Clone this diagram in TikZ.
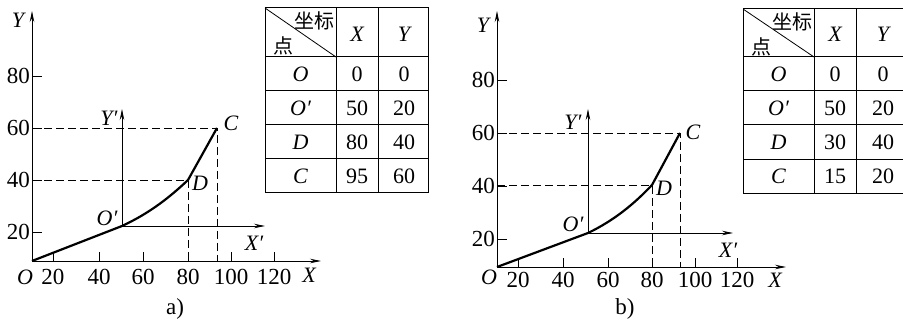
\documentclass[tikz,border=0pt]{standalone}
\usepackage{fontspec}
\setmainfont{Liberation Serif}
\newfontfamily\cjk{Noto Sans CJK SC}
\usetikzlibrary{arrows.meta}
\begin{document}
\begin{tikzpicture}[x=1pt,y=-1pt,
  axis/.style={line width=0.9pt, -{Stealth[length=11pt,width=4.5pt]}},
  curve/.style={line width=2.2pt, line join=round},
  guide/.style={line width=0.8pt, dash pattern=on 8pt off 4pt},
  tickline/.style={line width=0.9pt},
  lbl/.style={font=\fontsize{23}{23}\selectfont, inner sep=0pt},
  ilbl/.style={font=\fontsize{22}{22}\selectfont\itshape, inner sep=0pt},
  tlbl/.style={font=\fontsize{22}{22}\selectfont, inner sep=0pt},
  cjklbl/.style={font=\fontsize{20}{20}\selectfont\cjk, inner sep=0pt},
  gridline/.style={line width=1pt}]
\useasboundingbox (0,0) rectangle (903,320);

% ---------------- panel a ----------------
\coordinate (aO) at (32,261);
\coordinate (aXend) at (321,261);
\coordinate (aYend) at (32,11);
\coordinate (aOp) at (122,226);
\coordinate (aXpend) at (265,226);
\coordinate (aYpend) at (122,109);
\coordinate (aD) at (188,180);
\coordinate (aC) at (217,128);

\draw[guide] (aO |- aC) -- (aC) -- (aC |- aO);
\draw[guide] (aO |- aD) -- (aD) -- (aD |- aO);
\draw[axis] (aO) -- (aXend);
\draw[axis] (aO) -- (aYend);
\draw[axis] (aOp) -- (aXpend);
\draw[axis] (aOp) -- (aYpend);
\foreach \x in {53,99,143,188,231,274} \draw[tickline] (\x,261) -- (\x,252);
\foreach \y in {76,128,180,232} \draw[tickline] (32,\y) -- (42,\y);
\draw[curve] (aO) -- (aOp) .. controls (150,213) and (170,197) .. (aD) -- (aC);

\foreach \x/\t in {53/20,99/40,143/60,188/80,231/100,274/120}
  \node[lbl] (ax\t) at (\x,277) {\t};
\foreach \y/\t in {76/80,128/60,180/40,232/20}
  \node[lbl, anchor=east] (ay\t) at (30,\y) {\t};
\node[ilbl] (aOl) at (25,277) {O};
\node[ilbl] (aYl) at (18,20) {Y};
\node[ilbl] (aXl) at (309,275) {X};
\node[ilbl] (aYpl) at (109,118) {Y′};
\node[ilbl] (aXpl) at (254,243) {X′};
\node[ilbl] (aOpl) at (107,218) {O′};
\node[ilbl] (aDl) at (200,183) {D};
\node[ilbl] (aCl) at (231,123) {C};
\node[lbl] (acap) at (175,309) {a)};

% table a
\draw[gridline] (265,8) rectangle (428,193);
\foreach \x in {336,378} \draw[gridline] (\x,8) -- (\x,193);
\foreach \y in {57,91,125,159} \draw[gridline] (265,\y) -- (428,\y);
\draw[line width=0.8pt] (265,8) -- (336,57);
\node[cjklbl] (ta1) at (314,21) {坐标};
\node[cjklbl] (ta2) at (283,46) {点};
\node[ilbl] (taX) at (357,34) {X};
\node[ilbl] (taY) at (404,34) {Y};
\foreach \i/\p/\vx/\vy in {0/O/0/0,1/O′/50/20,2/D/80/40,3/C/95/60}{
  \node[ilbl] (tap\i) at (300.5,74+34*\i) {\p};
  \node[tlbl] (tax\i) at (357,74+34*\i) {\vx};
  \node[tlbl] (tay\i) at (404,74+34*\i) {\vy};
}

% ---------------- panel b ----------------
\coordinate (bO) at (497,267);
\coordinate (bXend) at (786,267);
\coordinate (bYend) at (497,11);
\coordinate (bOp) at (588,233);
\coordinate (bXpend) at (733,233);
\coordinate (bYpend) at (588,109);
\coordinate (bD) at (652,185);
\coordinate (bC) at (680,133);

\draw[guide] (bO |- bC) -- (bC) -- (bC |- bO);
\draw[guide] (bO |- bD) -- (bD) -- (bD |- bO);
\draw[axis] (bO) -- (bXend);
\draw[axis] (bO) -- (bYend);
\draw[axis] (bOp) -- (bXpend);
\draw[axis] (bOp) -- (bYpend);
\foreach \x in {518,563,608,652,695,737} \draw[tickline] (\x,267) -- (\x,258);
\foreach \y in {80,133,186,239} \draw[tickline] (497,\y) -- (507,\y);
\draw[curve] (bO) -- (bOp) .. controls (615,220) and (635,203) .. (bD) -- (bC);

\foreach \x/\t in {518/20,563/40,608/60,652/80,695/100,737/120}
  \node[lbl] (bx\t) at (\x,280) {\t};
\foreach \y/\t in {80/80,133/60,186/40,239/20}
  \node[lbl, anchor=east] (by\t) at (495,\y) {\t};
\node[ilbl] (bOl) at (489,277) {O};
\node[ilbl] (bYl) at (483,25) {Y};
\node[ilbl] (bXl) at (775,280) {X};
\node[ilbl] (bYpl) at (573,122) {Y′};
\node[ilbl] (bXpl) at (728,250) {X′};
\node[ilbl] (bOpl) at (573,224) {O′};
\node[ilbl] (bDl) at (664,188) {D};
\node[ilbl] (bCl) at (693,132) {C};
\node[lbl] (bcap) at (625,309) {b)};

% table b
\draw[gridline] (906,9) -- (743,9) -- (743,194) -- (906,194);
\foreach \x in {814,856} \draw[gridline] (\x,9) -- (\x,194);
\foreach \y in {57,91,125,160} \draw[gridline] (743,\y) -- (906,\y);
\draw[line width=0.8pt] (743,9) -- (814,57);
\node[cjklbl] (tb1) at (792,22) {坐标};
\node[cjklbl] (tb2) at (761,47) {点};
\node[ilbl] (tbX) at (835,34) {X};
\node[ilbl] (tbY) at (883,34) {Y};
\foreach \i/\p/\vx/\vy in {0/O/0/0,1/O′/50/20,2/D/30/40,3/C/15/20}{
  \node[ilbl] (tbp\i) at (778.5,74+34*\i) {\p};
  \node[tlbl] (tbx\i) at (835,74+34*\i) {\vx};
  \node[tlbl] (tby\i) at (883,74+34*\i) {\vy};
}
\end{tikzpicture}
\end{document}
